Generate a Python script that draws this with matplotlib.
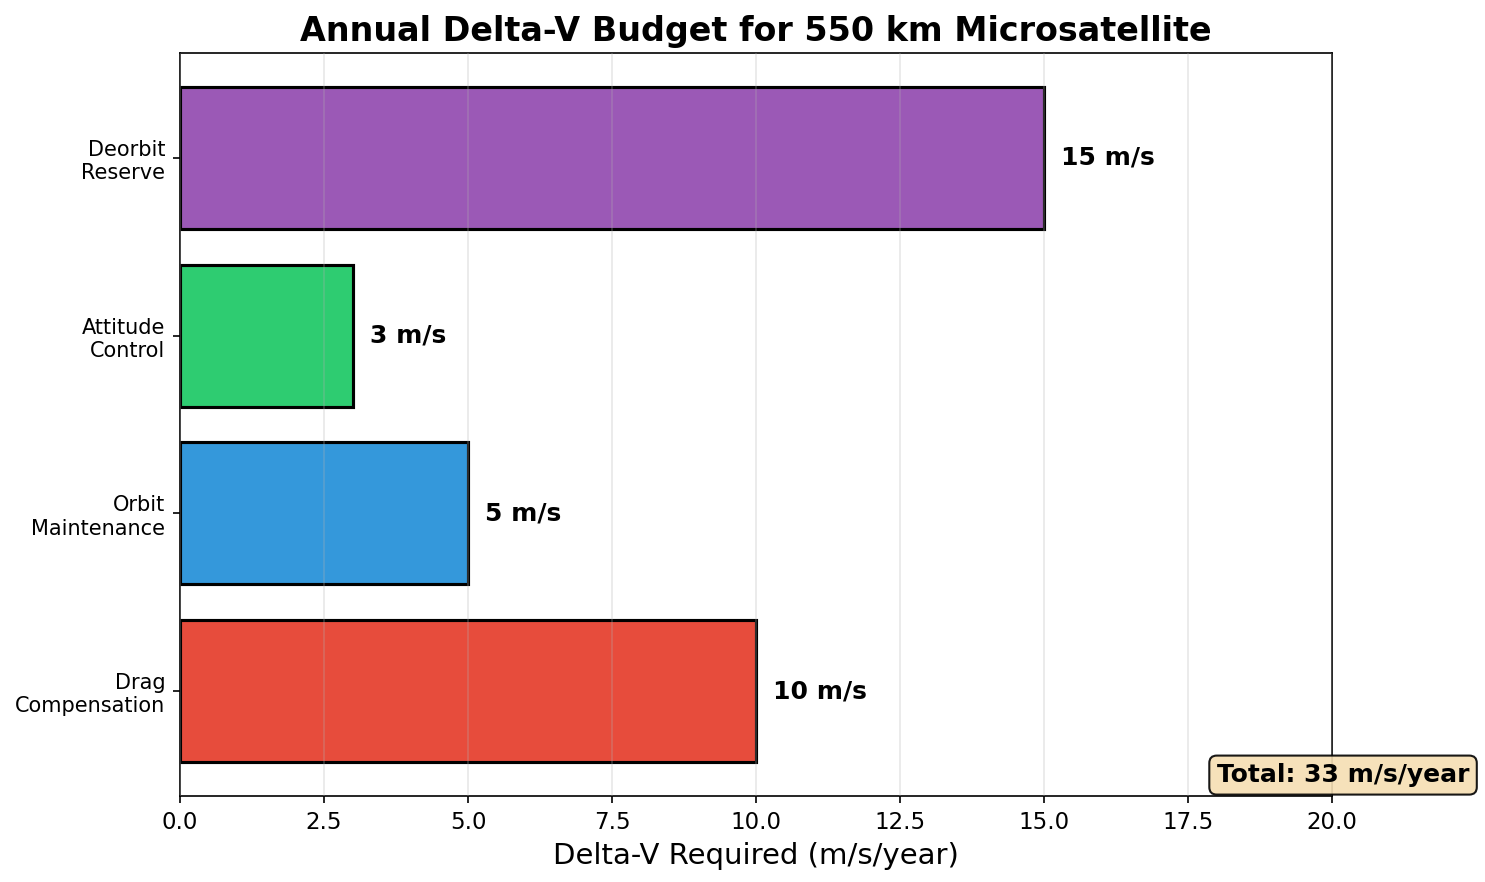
import matplotlib
matplotlib.use("Agg")
import matplotlib.pyplot as plt

categories = ["Drag\nCompensation", "Orbit\nMaintenance", "Attitude\nControl", "Deorbit\nReserve"]
delta_v = [10, 5, 3, 15]
colors = ["#e74c3c", "#3498db", "#2ecc71", "#9b59b6"]
total = sum(delta_v)

fig = plt.figure(figsize=(9.9, 5.88), dpi=150)
ax = fig.add_axes([180 / 1485, 1 - 796 / 882, (1332 - 180) / 1485, (796 - 53) / 882])

bars = ax.barh(categories, delta_v, color=colors, edgecolor="black", linewidth=1.5)
for bar, v in zip(bars, delta_v):
    ax.text(v + 0.3, bar.get_y() + bar.get_height() / 2, f"{v} m/s",
            va="center", ha="left", fontsize=12, fontweight="bold")

ax.set_xlim(0, 20)
ax.grid(True, axis="x", alpha=0.3)
ax.set_axisbelow(False)
ax.set_xlabel("Delta-V Required (m/s/year)", fontsize=14)
ax.set_title("Annual Delta-V Budget for 550 km Microsatellite", fontsize=16, fontweight="bold")
ax.tick_params(axis="x", labelsize=11)
ax.tick_params(axis="y", labelsize=10)

ax.text(0.9, 0.012, f"Total: {total} m/s/year", transform=ax.transAxes,
        fontsize=12, fontweight="bold", ha="left", va="bottom",
        bbox=dict(boxstyle="round,pad=0.3", facecolor="wheat", edgecolor="black", alpha=0.9))

fig.savefig("out.png", dpi=150)
